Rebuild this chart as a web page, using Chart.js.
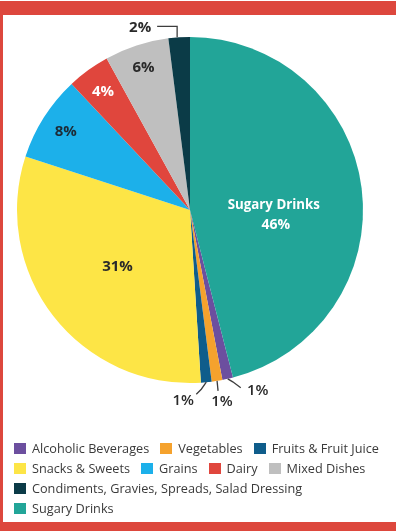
<!DOCTYPE html>
<html>
<head>
<meta charset="utf-8">
<script src="https://cdn.jsdelivr.net/npm/chart.js@4.4.1/dist/chart.umd.min.js"></script>
<style>
  html, body { margin: 0; padding: 0; background: #fff; }
  #frame {
    position: absolute; left: 0; top: 1px;
    width: 393px; height: 507px;
    border-style: solid; border-color: #dd473d;
    border-width: 14px 0 9px 3px;
  }
  #chart { position: absolute; left: 0; top: 0; }
  #legend {
    position: absolute; left: 14px; top: 438px;
    font: 12.7px "Open Sans", sans-serif; color: #3a3a3a;
  }
  .row { display: flex; height: 20px; align-items: center; }
  .item { display: flex; align-items: center; margin-right: 11px; white-space: nowrap; }
  .sw { width: 12px; height: 11px; margin-right: 6px; }
</style>
</head>
<body>
<div id="frame"></div>
<canvas id="chart" width="396" height="531"></canvas>
<div id="legend"></div>
<script>
const categories = [
  'Alcoholic Beverages', 'Vegetables', 'Fruits & Fruit Juice',
  'Snacks & Sweets', 'Grains', 'Dairy', 'Mixed Dishes',
  'Condiments, Gravies, Spreads, Salad Dressing', 'Sugary Drinks'
];
const shares = [1, 1, 1, 31, 8, 4, 6, 2, 46];
const sliceColors = [
  '#6c4f9f', '#f5a22d', '#0f5d8b', '#fde546', '#1cb0ea',
  '#e0463d', '#bfbfbf', '#0b3b47', '#22a598'
];
// legend rows, by category index
const legendRows = [[0, 1, 2], [3, 4, 5, 6], [7], [8]];

// how each slice label is placed: inside at a fraction of the radius,
// or outside with a leader line (offsets from the arc's outer midpoint)
const labelStyle = [
  { path: [[0, 0], [5, 3], [13, 9]], text: [30, 12], weight: 600 },
  { path: [[0, 0], [1, 10]], text: [5, 21], weight: 600 },
  { path: [[0, 0], [-5, 7], [-10, 12]], text: [-23, 19], weight: 600 },
  { r: 0.53, color: '#2a2a2a' },
  { r: 0.85, color: '#1d2b36' },
  { r: 0.855, color: '#ffffff' },
  { r: 0.87, color: '#2a2a2a' },
  { path: [[-2, 0], [-2, -11], [-22, -11]], text: [-39, -10] },
  { r: 0.5, dy: 16, color: '#ffffff', title: true }
];

const total = shares.reduce((a, b) => a + b, 0);
// first slice starts where the last one (Sugary Drinks, from 12 o'clock) ends
const startRotation = shares[shares.length - 1] / total * 360;

const sliceLabels = {
  id: 'sliceLabels',
  afterDatasetsDraw(chart) {
    const ctx = chart.ctx;
    const arcs = chart.getDatasetMeta(0).data;
    ctx.save();
    ctx.textAlign = 'center';
    ctx.textBaseline = 'middle';
    arcs.forEach((arc, i) => {
      const { x, y, startAngle, endAngle, outerRadius } = arc.getProps(['x', 'y', 'startAngle', 'endAngle', 'outerRadius'], true);
      const mid = (startAngle + endAngle) / 2;
      const st = labelStyle[i];
      const pct = Math.round(shares[i] / total * 100) + '%';
      ctx.font = (st.weight || 'bold') + ' 15px "Open Sans", sans-serif';
      if (st.path) {
        const ox = x + Math.cos(mid) * outerRadius;
        const oy = y + Math.sin(mid) * outerRadius;
        ctx.strokeStyle = '#3d3d3d';
        ctx.lineWidth = 1.3;
        ctx.beginPath();
        st.path.forEach((p, k) => {
          if (k === 0) ctx.moveTo(ox + p[0], oy + p[1]);
          else ctx.lineTo(ox + p[0], oy + p[1]);
        });
        ctx.stroke();
        ctx.fillStyle = '#2a2a2a';
        ctx.fillText(pct, ox + st.text[0], oy + st.text[1]);
      } else {
        const lx = x + Math.cos(mid) * outerRadius * st.r;
        const ly = y + Math.sin(mid) * outerRadius * st.r + (st.dy || 0);
        ctx.fillStyle = st.color;
        if (st.title) {
          ctx.font = 'bold 13.3px "Open Sans", sans-serif';
          ctx.fillText(categories[i], lx - 2, ly - 10);
          ctx.font = 'bold 14px "Open Sans", sans-serif';
          ctx.fillText(pct, lx, ly + 10);
        } else {
          ctx.fillText(pct, lx, ly + 1);
        }
      }
    });
    ctx.restore();
  }
};

new Chart(document.getElementById('chart'), {
  type: 'pie',
  data: {
    labels: categories,
    datasets: [{
      data: shares,
      backgroundColor: sliceColors,
      borderWidth: 0
    }]
  },
  options: {
    responsive: false,
    animation: false,
    rotation: startRotation,
    layout: { padding: { left: 17, top: 37, right: 33, bottom: 148 } },
    plugins: {
      legend: { display: false },
      tooltip: { enabled: false }
    }
  },
  plugins: [sliceLabels]
});

// legend
const legend = document.getElementById('legend');
legendRows.forEach(row => {
  const r = document.createElement('div');
  r.className = 'row';
  row.forEach(i => {
    const item = document.createElement('div');
    item.className = 'item';
    const sw = document.createElement('span');
    sw.className = 'sw';
    sw.style.background = sliceColors[i];
    const txt = document.createElement('span');
    txt.textContent = categories[i];
    item.appendChild(sw);
    item.appendChild(txt);
    r.appendChild(item);
  });
  legend.appendChild(r);
});
</script>
</body>
</html>
